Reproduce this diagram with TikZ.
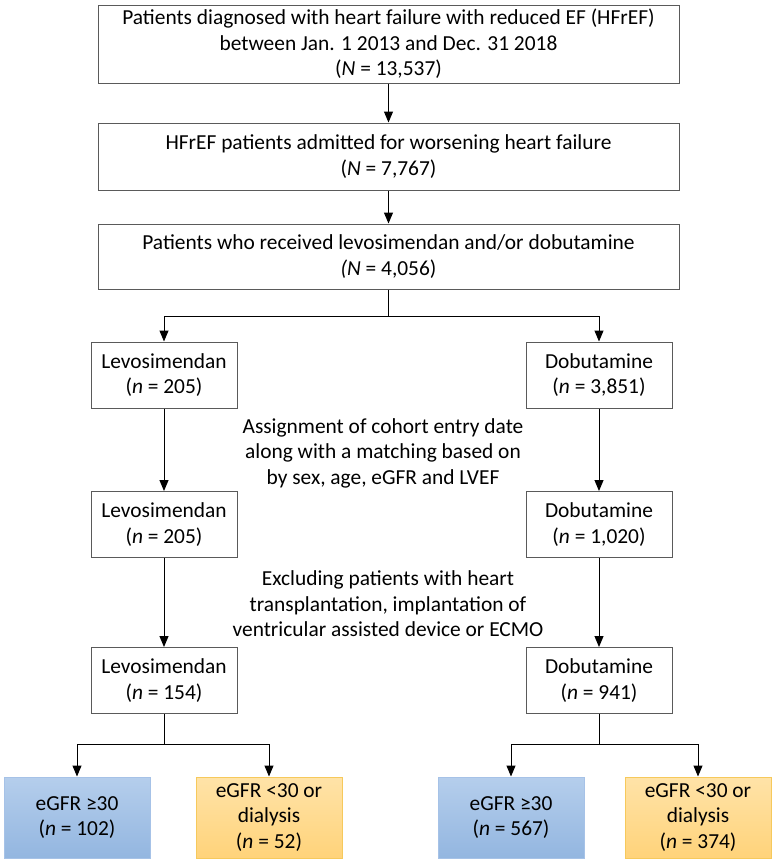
\documentclass[tikz,border=0pt]{standalone}
\usepackage{fontspec}
\setmainfont{Carlito}
\usetikzlibrary{arrows.meta}
\definecolor{boxline}{HTML}{5A5A5A}
\definecolor{blueTop}{HTML}{B5CEEC}
\definecolor{blueBot}{HTML}{93B6E0}
\definecolor{blueLine}{HTML}{A6C2E7}
\definecolor{orTop}{HTML}{FFE3A8}
\definecolor{orBot}{HTML}{FFD37A}
\definecolor{orLine}{HTML}{F6C95C}

\begin{document}
\begin{tikzpicture}[x=1pt,y=-1pt,
  box/.style={draw=boxline,line width=1pt,fill=white,align=center,inner sep=0pt,
    font=\fontsize{21.4}{25.5}\selectfont},
  wide/.style={box,minimum width=581pt},
  arm/.style={box,minimum width=146pt,minimum height=66pt},
  hi/.style={arm,draw=blueLine,top color=blueTop,bottom color=blueBot,minimum height=81pt},
  lo/.style={arm,draw=orLine,top color=orTop,bottom color=orBot,minimum height=81pt},
  note/.style={align=center,inner sep=0pt,font=\fontsize{21.4}{25.5}\selectfont},
  arr/.style={line width=1pt,-{Triangle[width=9pt,length=11pt]}},
  ln/.style={line width=1pt}]
 \useasboundingbox (0,0) rectangle (772,860);
 \node[wide,minimum height=78pt] (all) at (388.5,44) {Patients diagnosed with heart failure with reduced EF (HFrEF)\\between Jan. 1 2013 and Dec. 31 2018\\(\textit{N} = 13,537)};
 \node[wide,minimum height=67pt] (adm) at (388.5,156.5) {HFrEF patients admitted for worsening heart failure\\(\textit{N} = 7,767)};
 \node[wide,minimum height=65pt] (rec) at (388.5,256.5) {Patients who received levosimendan and/or dobutamine\\\textit{(N} = 4,056)};
 \node[arm] (levA) at (164,375) {Levosimendan\\(\textit{n} = 205)};
 \node[arm] (dobA) at (599,375) {Dobutamine\\(\textit{n} = 3,851)};
 \node[note] (match) at (383,453) {Assignment of cohort entry date\\along with a matching based on\\by sex, age, eGFR and LVEF};
 \node[arm] (levB) at (164,524.5) {Levosimendan\\(\textit{n} = 205)};
 \node[arm] (dobB) at (599,524.5) {Dobutamine\\(\textit{n} = 1,020)};
 \node[note] (excl) at (388,604) {Excluding patients with heart\\transplantation, implantation of\\ventricular assisted device or ECMO};
 \node[arm] (levC) at (164,680.5) {Levosimendan\\(\textit{n} = 154)};
 \node[arm] (dobC) at (599,680.5) {Dobutamine\\(\textit{n} = 941)};
 \node[hi] (levHi) at (77,817.5) {eGFR ≥30\\(\textit{n} = 102)};
 \node[lo] (levLo) at (269,817.5) {eGFR <30 or\\dialysis\\(\textit{n} = 52)};
 \node[hi] (dobHi) at (511,817.5) {eGFR ≥30\\(\textit{n} = 567)};
 \node[lo] (dobLo) at (698,817.5) {eGFR <30 or\\dialysis\\(\textit{n} = 374)};
 \coordinate (split) at (388.5,316);
 \coordinate (levSplit) at (164,744);
 \coordinate (dobSplit) at (599,744);
 \draw[arr] (all) -- (adm);
 \draw[arr] (adm) -- (rec);
 \draw[ln] (rec) -- (split);
 \draw[arr] (split) -| (levA);
 \draw[arr] (split) -| (dobA);
 \draw[arr] (levA) -- (levB);
 \draw[arr] (dobA) -- (dobB);
 \draw[arr] (levB) -- (levC);
 \draw[arr] (dobB) -- (dobC);
 \draw[ln] (levC) -- (levSplit);
 \draw[arr] (levSplit) -| (levHi);
 \draw[arr] (levSplit) -| (levLo);
 \draw[ln] (dobC) -- (dobSplit);
 \draw[arr] (dobSplit) -| (dobHi);
 \draw[arr] (dobSplit) -| (dobLo);
\end{tikzpicture}
\end{document}
